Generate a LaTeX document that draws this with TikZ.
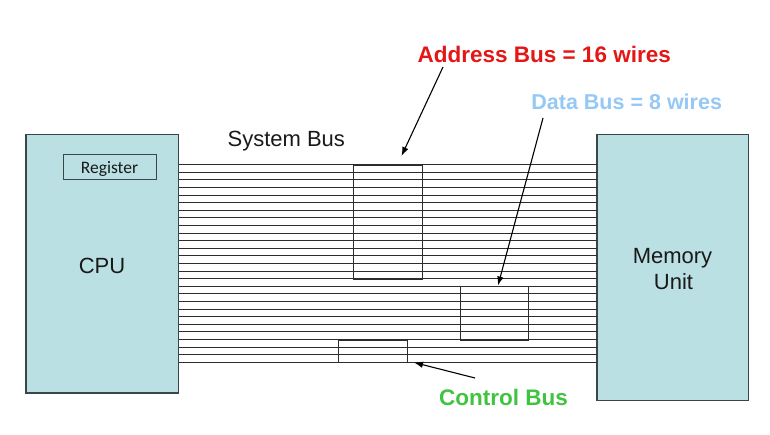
\documentclass[tikz,border=0pt]{standalone}
\usepackage{fontspec}
\setmainfont{Liberation Sans}
\newfontfamily\regfont{Carlito}
\usetikzlibrary{arrows.meta,calc}
\definecolor{boxfill}{RGB}{186,224,227}
\definecolor{boxline}{RGB}{60,70,70}
\definecolor{addrred}{RGB}{228,22,22}
\definecolor{datablue}{RGB}{150,200,245}
\definecolor{ctrlgreen}{RGB}{64,196,64}
\definecolor{wirecol}{RGB}{45,45,45}
\definecolor{txtcol}{RGB}{25,25,25}
\tikzset{
  unitbox/.style={draw=boxline, line width=1.1pt, fill=boxfill},
  wire/.style={draw=wirecol, line width=1pt},
  busbox/.style={draw=wirecol, line width=1pt},
  lbl/.style={inner sep=0pt, anchor=base, font=\fontsize{22.5}{26}\selectfont\bfseries},
  plain/.style={inner sep=0pt, anchor=base, text=txtcol, font=\fontsize{22}{25}\selectfont},
  pointer/.style={draw=black, line width=1.1pt, -{Latex[length=9pt,width=6.5pt]}}
}
\begin{document}
\begin{tikzpicture}[x=1pt,y=-1pt]
\useasboundingbox (0,0) rectangle (770,435);
% units
\path[unitbox] (26,134.3) rectangle (178.5,393);
\path[unitbox] (597,134.3) rectangle (748.7,400.7);
\coordinate (cpu) at (178.5,164.7);
\coordinate (mem) at (597,164.7);
% wires
\foreach \i in {0,...,26}{
  \draw[wire] ($(cpu)+(0,7.6*\i)$) -- ($(mem)+(0,7.6*\i)$);
}
% bus boxes
\node[busbox, minimum width=68.7pt, minimum height=114pt, inner sep=0pt, anchor=north west] (abus) at (353,164.7) {};
\node[busbox, minimum width=68pt, minimum height=53.2pt, inner sep=0pt, anchor=north west] (dbus) at (460,286.3) {};
\node[busbox, minimum width=69pt, minimum height=22.8pt, inner sep=0pt, anchor=north west] (cbus) at (337.7,339.5) {};
% register
\node[draw=boxline, line width=1pt, fill=boxfill, minimum width=92.4pt, minimum height=24.7pt, inner sep=0pt, anchor=north west] (regbox) at (63.3,154.3) {};
\node[inner sep=0pt, anchor=base, text=txtcol, font=\regfont\fontsize{17.5}{20}\selectfont] (reg) at (109.5,173.3) {Register};
% texts
\node[plain] (cputxt) at (102,273) {CPU};
\node[plain] (memtxt) at (672.5,263.3) {Memory};
\node[plain] (unittxt) at (673.5,289.3) {Unit};
\node[plain] (systxt) at (286.3,146.5) {System Bus};
\node[lbl, text=addrred] (addr) at (544.2,62.7) {Address Bus = 16 wires};
\node[lbl, text=datablue, font=\fontsize{21.5}{25}\selectfont\bfseries] (data) at (626.7,110) {Data Bus = 8 wires};
\node[lbl, text=ctrlgreen] (ctrl) at (503.5,405) {Control Bus};
% pointers
\coordinate (a1) at (443,67);
\coordinate (a2) at (401.5,156);
\coordinate (d1) at (543,118);
\coordinate (d2) at (498,285.5);
\coordinate (c1) at (475,378);
\coordinate (c2) at (414,362.5);
\draw[pointer] (a1) -- (a2);
\draw[pointer] (d1) -- (d2);
\draw[pointer] (c1) -- (c2);
\end{tikzpicture}
\end{document}
